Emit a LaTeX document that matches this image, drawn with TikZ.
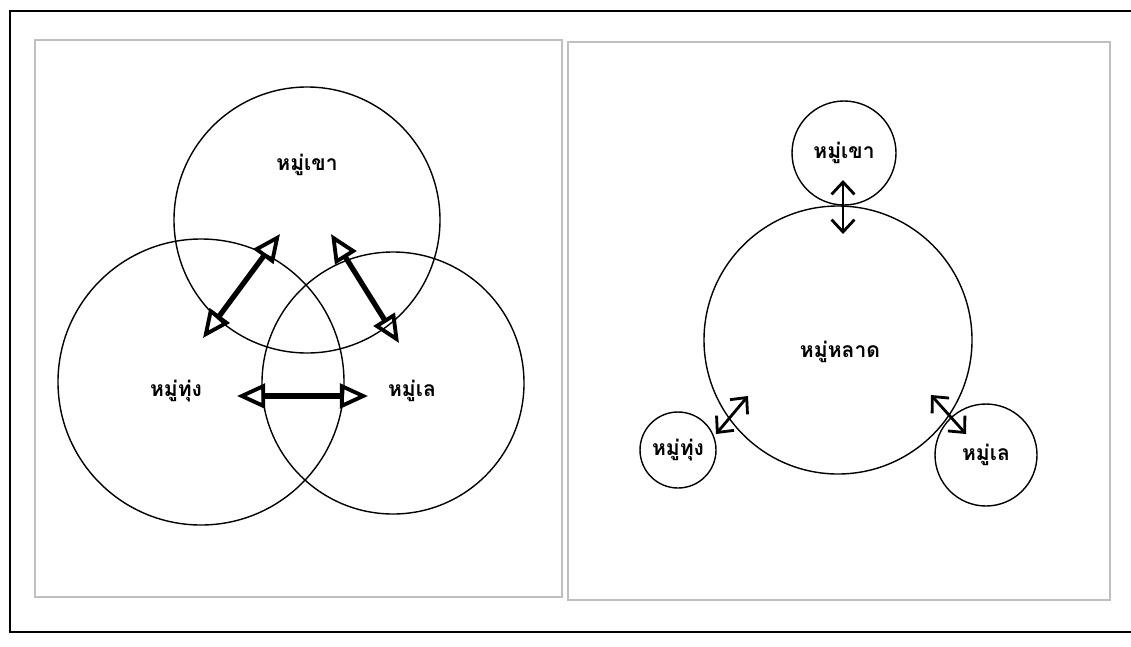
\documentclass[tikz,border=0pt]{standalone}
\usepackage{fontspec}
\newfontfamily\thaifont[Script=Thai]{Loma}
\usetikzlibrary{arrows.meta}
\tikzset{
  panel/.style={draw=black!25, line width=0.6pt},
  ring/.style={draw, line width=0.8pt},
  lbl/.style={font=\thaifont\bfseries\large},
  thickarrow/.style={line width=3pt, {Triangle[open,length=16pt,width=14pt,line width=2.2pt]}-{Triangle[open,length=16pt,width=14pt,line width=2.2pt]}},
  thinarrow/.style={line width=1.6pt, {Straight Barb[length=7pt,width=13pt]}-{Straight Barb[length=7pt,width=13pt]}}
}
\begin{document}
\begin{tikzpicture}[x=0.02cm,y=-0.02cm]
\clip (0,0) rectangle (1131,646);
% frames
\draw[line width=1.6pt] (10,11) rectangle (1160,632);
\draw[panel] (35,40) rectangle (562,597);
\draw[panel] (568,42) rectangle (1110,600);
% left panel: three overlapping circles
\draw[ring] (307,220) circle (133);
\draw[ring] (201,382) circle (143);
\draw[ring] (393,383) circle (131);
\node[lbl] (khao) at (307,165) {หมู่เขา};
\node[lbl] (thung) at (176,391) {หมู่ทุ่ง};
\node[lbl] (le) at (412,391) {หมู่เล};
\coordinate (a1) at (203,338);
\coordinate (a2) at (280,234);
\coordinate (b1) at (331,234);
\coordinate (b2) at (399,343);
\coordinate (c1) at (237,396);
\coordinate (c2) at (368,396);
\draw[thickarrow] (a1) -- (a2);
\draw[thickarrow] (b1) -- (b2);
\draw[thickarrow] (c1) -- (c2);
% right panel: one big circle with three small ones
\node[ring, circle, minimum size=104*0.02cm, inner sep=0pt, lbl] (rkhao) at (844,153) {หมู่เขา};
\node[ring, circle, minimum size=268*0.02cm, inner sep=0pt, lbl] (rlat) at (838,340) {};
\node[lbl] (rlatlbl) at (840,352) {หมู่หลาด};
\node[ring, circle, minimum size=76*0.02cm, inner sep=0pt, lbl] (rthung) at (678,450) {หมู่ทุ่ง};
\node[ring, circle, minimum size=102*0.02cm, inner sep=0pt, lbl] (rle) at (986,455) {หมู่เล};
\coordinate (d1) at (843,180);
\coordinate (d2) at (843,234);
\coordinate (e1) at (716,434);
\coordinate (e2) at (748,396);
\coordinate (f1) at (931,395);
\coordinate (f2) at (966,434);
\draw[thinarrow] (d1) -- (d2);
\draw[thinarrow] (e1) -- (e2);
\draw[thinarrow] (f1) -- (f2);
\end{tikzpicture}
\end{document}
